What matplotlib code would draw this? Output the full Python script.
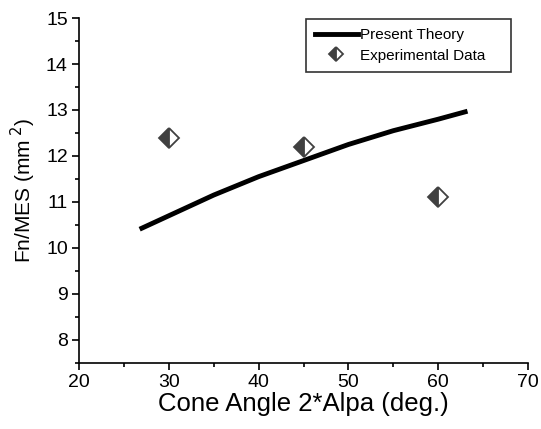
import matplotlib
matplotlib.use("Agg")
import matplotlib.pyplot as plt
from matplotlib.ticker import MultipleLocator

plt.rcParams['font.family'] = ['Liberation Sans', 'DejaVu Sans']

theory_x = [27, 30, 35, 40, 45, 50, 55, 60, 63]
theory_y = [10.43, 10.70, 11.15, 11.55, 11.90, 12.25, 12.55, 12.80, 12.96]
exp_x = [30, 45, 60]
exp_y = [12.4, 12.2, 11.1]

fig = plt.figure(figsize=(5.41, 4.29), dpi=100)
ax = fig.add_axes([0.146, 0.154, 0.830, 0.804])

ax.plot(theory_x, theory_y, color='black', lw=3.5, label='Present Theory')
ax.plot(exp_x, exp_y, linestyle='none', marker='D', markersize=10,
        fillstyle='left', markerfacecolor='#404040', markerfacecoloralt='white',
        markeredgecolor='#404040', markeredgewidth=1.3, label='Experimental Data')

ax.set_xlim(20, 70)
ax.set_ylim(7.5, 15)
ax.xaxis.set_major_locator(MultipleLocator(10))
ax.xaxis.set_minor_locator(MultipleLocator(5))
ax.yaxis.set_major_locator(MultipleLocator(1))
ax.yaxis.set_minor_locator(MultipleLocator(0.5))
ax.spines['top'].set_visible(False)
ax.spines['right'].set_visible(False)
for s in ('left', 'bottom'):
    ax.spines[s].set_linewidth(1.2)
ax.tick_params(which='major', direction='out', length=5, width=1.2, labelsize=14, pad=3)
ax.tick_params(which='minor', direction='out', length=3, width=1.2)

ax.set_xlabel('Cone Angle 2*Alpa (deg.)', fontsize=18.5, labelpad=1)
ax.set_ylabel('Fn/MES (mm$^{\\ 2}$)', fontsize=15, labelpad=6)

leg = ax.legend(loc='upper right', bbox_to_anchor=(0.963, 0.998), fontsize=11,
                frameon=True, fancybox=False, handlelength=2.8, borderpad=0.6,
                labelspacing=0.45, handletextpad=0.15, markerscale=0.7,
                borderaxespad=0.0)
leg.get_frame().set_edgecolor('black')
leg.get_frame().set_linewidth(1.2)
for t in leg.get_texts():
    t.set_text(t.get_text() + '    ')

fig.savefig('out.png', dpi=100)
